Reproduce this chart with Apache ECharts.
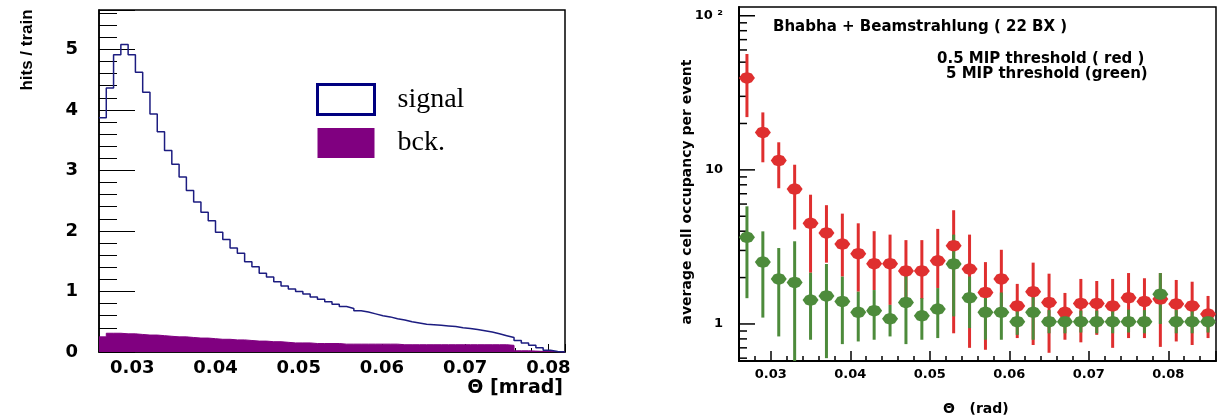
<!DOCTYPE html>
<html><head><meta charset="utf-8">
<script src="https://cdn.jsdelivr.net/npm/echarts@6/dist/echarts.min.js"></script>
<style>html,body{margin:0;padding:0;background:#fff}#c{width:1219px;height:416px}</style>
</head><body><div id="c"></div>
<script>
// ---------- Left panel: histogram (hits / train vs theta) ----------
const binStart = 0.026;
const binWidth = 0.000875;
const signal = [3.87, 4.36, 4.91, 5.08, 4.91, 4.62, 4.29, 3.93, 3.64, 3.33, 3.10, 2.89, 2.67, 2.48, 2.31, 2.17,
  1.98, 1.86, 1.72, 1.63, 1.49, 1.41, 1.30, 1.24, 1.16, 1.09, 1.04,
  1.00, 0.96, 0.91, 0.87, 0.83, 0.79, 0.75, 0.72, 0.68, 0.66, 0.63, 0.60, 0.58, 0.55, 0.53, 0.50, 0.48, 0.46,
  0.45, 0.44, 0.43, 0.42, 0.40, 0.39, 0.37, 0.35, 0.33, 0.30, 0.27, 0.24, 0.19, 0.15, 0.11, 0.07, 0.03, 0.01, 0.0];
const bck = [0.25, 0.31, 0.31, 0.30, 0.30, 0.29, 0.28, 0.28, 0.27, 0.26,
  0.25, 0.25, 0.24, 0.23, 0.23, 0.22, 0.21, 0.21, 0.20, 0.20,
  0.19, 0.18, 0.18, 0.17, 0.17, 0.16, 0.15, 0.15, 0.15, 0.14,
  0.14, 0.14, 0.14, 0.13, 0.13, 0.13, 0.13, 0.13, 0.13, 0.13,
  0.13, 0.12, 0.12, 0.12, 0.12, 0.12, 0.12, 0.12, 0.12, 0.12,
  0.12, 0.12, 0.12, 0.12, 0.12, 0.12, 0.11,
  0.02, 0.02, 0.015, 0.01, 0.01, 0.005, 0];
const leftXRange = [0.026, 0.082];
const leftYRange = [0, 5.65];

// ---------- Right panel: occupancy vs theta (log) ----------
const theta = [0.027, 0.029, 0.031, 0.033, 0.035, 0.037, 0.039, 0.041, 0.043, 0.045,
  0.047, 0.049, 0.051, 0.053, 0.055, 0.057, 0.059, 0.061, 0.063, 0.065,
  0.067, 0.069, 0.071, 0.073, 0.075, 0.077, 0.079, 0.081, 0.083, 0.085];
const redY = [39.5, 17.5, 11.5, 7.5, 4.5, 3.9, 3.3, 2.86, 2.46, 2.46, 2.21, 2.21, 2.57, 3.22, 2.27,
  1.60, 1.96, 1.31, 1.62, 1.38, 1.19, 1.36, 1.36, 1.31, 1.48, 1.40, 1.45, 1.35, 1.31, 1.16];
const redHigh = [56.5, 23.6, 15.1, 10.8, 6.9, 5.9, 5.2, 4.5, 4.0, 3.8, 3.5, 3.5, 4.14, 5.47, 3.8,
  2.52, 3.03, 1.82, 2.5, 2.12, 1.59, 1.96, 1.9, 1.96, 2.14, 1.98, 2.14, 1.93, 1.88, 1.52];
const redLow = [22, 11.2, 7.6, 4.1, 2.15, 2.5, 2.03, 1.62, 1.66, 1.33, 1.45, 1.45, 1.71, 0.87, 0.70,
  0.68, 1.3, 0.81, 0.73, 0.65, 0.79, 0.76, 0.85, 0.70, 0.81, 0.81, 0.71, 0.77, 0.73, 0.81];
const greenY = [3.65, 2.52, 1.96, 1.86, 1.43, 1.52, 1.40, 1.19, 1.22, 1.08, 1.38, 1.13, 1.25, 2.45, 1.48,
  1.19, 1.19, 1.035, 1.19, 1.035, 1.035, 1.035, 1.035, 1.035, 1.035, 1.035, 1.56, 1.035, 1.035, 1.035];
const greenHigh = [5.8, 3.99, 3.11, 3.44, 2.15, 2.45, 2.03, 1.62, 1.66, 1.33, 2.05, 1.47, 1.71, 3.8, 2.03,
  1.54, 1.6, 1.30, 1.66, 1.23, 1.21, 1.22, 1.22, 1.22, 1.24, 1.23, 2.14, 1.23, 1.22, 1.22];
const greenLow = [1.47, 1.10, 0.83, 0.5, 0.79, 0.60, 0.74, 0.77, 0.79, 0.83, 0.74, 0.79, 0.81, 1.12, 0.94,
  0.79, 0.79, 0.85, 0.79, 0.87, 0.87, 0.88, 0.87, 0.87, 0.88, 0.87, 1.0, 0.87, 0.87, 0.88];
const logTickValues = [0.6, 0.7, 0.8, 0.9, 1, 2, 3, 4, 5, 6, 7, 8, 9, 10, 20, 30, 40, 50, 60, 70, 80, 90, 100];
const rightXRange = [0.026, 0.086];
const rightYRange = [0.575, 114];

const RED = '#df2f2f', GREEN = '#4d8b3b', NAVY = '#1c1c80', PURPLE = '#800080';
const NUM_FONT = 'DejaVu Sans';

function stepData(vals) {
  const d = vals.map((v, i) => [binStart + i * binWidth, v]);
  d.push([binStart + vals.length * binWidth, vals[vals.length - 1]]);
  return d;
}
function decimalLabel(v) {
  const k = v * 100;
  if (Math.abs(k - Math.round(k)) > 1e-6) return '';
  return v.toFixed(2);
}
function logLabel(v) {
  const l = Math.log10(v);
  if (Math.abs(l - Math.round(l)) > 1e-6) return '';
  const r = Math.round(l);
  if (r === 2) return '10 ²';
  return String(Math.pow(10, r));
}
function errRender(color) {
  return function (params, api) {
    const x = api.value(0);
    const lo = Math.max(api.value(1), rightYRange[0]);
    const hi = Math.min(api.value(2), rightYRange[1]);
    const p1 = api.coord([x, lo]), p2 = api.coord([x, hi]);
    return { type: 'line', shape: { x1: p1[0], y1: p1[1], x2: p2[0], y2: p2[1] },
      style: { stroke: color, lineWidth: 3 } };
  };
}
const markerPath = 'path://M0,5 L3,1 L6,0 L9,0 L12,1 L15,5 L12,9 L9,10 L6,10 L3,9 Z';

const chart = echarts.init(document.getElementById('c'), null, { renderer: 'canvas' });
const option = {
  animation: false,
  backgroundColor: '#fff',
  grid: [
    { left: 99, top: 10, width: 466, height: 342, show: true, borderColor: '#000', borderWidth: 1.5, backgroundColor: 'transparent' },
    { left: 739, top: 7, width: 479, height: 354, show: true, borderColor: '#000', borderWidth: 1.5, backgroundColor: 'transparent' }
  ],
  legend: {
    left: 316, top: 83, padding: 0, orient: 'vertical', itemWidth: 57, itemHeight: 30, itemGap: 12,
    selectedMode: false,
    textStyle: { fontFamily: 'Liberation Serif', fontSize: 28, lineHeight: 30, color: '#000', padding: [0, 0, 0, 18] },
    data: [
      { name: 'signal', icon: 'rect', itemStyle: { color: '#fff', borderColor: '#000080', borderWidth: 3 } },
      { name: 'bck.', icon: 'rect', itemStyle: { color: PURPLE, borderWidth: 0 } }
    ]
  },
  xAxis: [
    { gridIndex: 0, type: 'value', min: leftXRange[0], max: leftXRange[1], splitNumber: 5,
      axisLine: { lineStyle: { color: '#000', width: 1.5 } },
      axisTick: { inside: true, length: 8, lineStyle: { color: '#000' } },
      minorTick: { show: true, splitNumber: 5, length: 4, lineStyle: { color: '#000' } },
      splitLine: { show: false },
      axisLabel: { formatter: decimalLabel, fontFamily: NUM_FONT, fontWeight: 'bold', fontSize: 18, color: '#000', margin: 7 } },
    { gridIndex: 1, type: 'value', min: rightXRange[0], max: rightXRange[1], splitNumber: 5,
      axisLine: { lineStyle: { color: '#000', width: 2 } },
      axisTick: { inside: true, length: 10, lineStyle: { color: '#000', width: 1.5 } },
      minorTick: { show: true, splitNumber: 5, length: 5, lineStyle: { color: '#000', width: 1.5 } },
      splitLine: { show: false },
      axisLabel: { formatter: decimalLabel, fontFamily: NUM_FONT, fontWeight: 'bold', fontSize: 13, color: '#000', margin: 7 } }
  ],
  yAxis: [
    { gridIndex: 0, type: 'value', min: leftYRange[0], max: leftYRange[1], splitNumber: 5,
      axisLine: { lineStyle: { color: '#000', width: 1.5 } },
      axisTick: { inside: true, length: 36, lineStyle: { color: '#000' } },
      minorTick: { show: true, splitNumber: 5, length: 18, lineStyle: { color: '#000' } },
      splitLine: { show: false },
      axisLabel: { formatter: v => (Math.abs(v - Math.round(v)) < 1e-6 ? String(Math.round(v)) : ''),
        fontFamily: NUM_FONT, fontWeight: 'bold', fontSize: 18, color: '#000', margin: 21 } },
    { gridIndex: 1, type: 'log', logBase: 10, min: rightYRange[0], max: rightYRange[1],
      axisLine: { lineStyle: { color: '#000', width: 2 } },
      axisTick: { show: false },
      minorTick: { show: false },
      splitLine: { show: false },
      axisLabel: { formatter: logLabel, fontFamily: NUM_FONT, fontWeight: 'bold', fontSize: 13, color: '#000', margin: 16 } }
  ],
  graphic: [
    { type: 'text', x: 27, y: 50, rotation: Math.PI / 2,
      style: { text: 'hits / train', font: 'bold 17px "Liberation Sans"', fill: '#000', align: 'center', verticalAlign: 'middle' } },
    { type: 'text', x: 563, y: 388,
      style: { text: 'Θ [mrad]', font: 'bold 19px "DejaVu Sans"', fill: '#000', align: 'right', verticalAlign: 'middle' } },
    { type: 'text', x: 773, y: 27,
      style: { text: 'Bhabha + Beamstrahlung ( 22 BX )', font: 'bold 15px "DejaVu Sans"', fill: '#000', align: 'left', verticalAlign: 'middle' } },
    { type: 'text', x: 937, y: 59,
      style: { text: '0.5 MIP threshold ( red )', font: 'bold 15px "DejaVu Sans"', fill: '#000', align: 'left', verticalAlign: 'middle' } },
    { type: 'text', x: 946, y: 74,
      style: { text: '5 MIP threshold (green)', font: 'bold 15px "DejaVu Sans"', fill: '#000', align: 'left', verticalAlign: 'middle' } },
    { type: 'text', x: 687, y: 192, rotation: Math.PI / 2,
      style: { text: 'average cell occupancy per event', font: 'bold 14px "DejaVu Sans"', fill: '#000', align: 'center', verticalAlign: 'middle' } },
    { type: 'text', x: 943, y: 409,
      style: { text: 'Θ   (rad)', font: 'bold 14px "DejaVu Sans"', fill: '#000', align: 'left', verticalAlign: 'middle' } }
  ],
  series: [
    { name: 'bck.', type: 'line', xAxisIndex: 0, yAxisIndex: 0, step: 'end', data: stepData(bck),
      showSymbol: false, symbol: 'none', lineStyle: { color: PURPLE, width: 1 }, itemStyle: { color: PURPLE },
      areaStyle: { color: PURPLE, opacity: 1 }, silent: true },
    { name: 'signal', type: 'line', xAxisIndex: 0, yAxisIndex: 0, step: 'end', data: stepData(signal),
      showSymbol: false, symbol: 'none', lineStyle: { color: NAVY, width: 1.5 }, itemStyle: { color: NAVY }, silent: true },

    { name: 'ticksLog', type: 'custom', xAxisIndex: 1, yAxisIndex: 1, silent: true, z: 1,
      data: logTickValues.map(v => [rightXRange[0], v]),
      renderItem: function (params, api) {
        const v = api.value(1);
        const l = Math.log10(v);
        const major = Math.abs(l - Math.round(l)) < 1e-6;
        const p = api.coord([api.value(0), v]);
        return { type: 'line', shape: { x1: p[0], y1: p[1], x2: p[0] + (major ? 16 : 8), y2: p[1] },
          style: { stroke: '#000', lineWidth: 1.5 } };
      } },
    { name: 'redErr', type: 'custom', xAxisIndex: 1, yAxisIndex: 1, silent: true, clip: true,
      encode: { x: 0, y: [1, 2] },
      data: theta.map((x, i) => [x, redLow[i], redHigh[i]]), renderItem: errRender(RED) },
    { name: 'red', type: 'scatter', xAxisIndex: 1, yAxisIndex: 1, silent: true,
      symbol: markerPath, symbolSize: [16, 11], itemStyle: { color: RED, opacity: 1 },
      data: theta.map((x, i) => [x, redY[i]]) },
    { name: 'greenErr', type: 'custom', xAxisIndex: 1, yAxisIndex: 1, silent: true, clip: true,
      encode: { x: 0, y: [1, 2] },
      data: theta.map((x, i) => [x, greenLow[i], greenHigh[i]]), renderItem: errRender(GREEN) },
    { name: 'green', type: 'scatter', xAxisIndex: 1, yAxisIndex: 1, silent: true,
      symbol: markerPath, symbolSize: [16, 11], itemStyle: { color: GREEN, opacity: 1 },
      data: theta.map((x, i) => [x, greenY[i]]) }
  ]
};
chart.setOption(option);
</script>
</body></html>
